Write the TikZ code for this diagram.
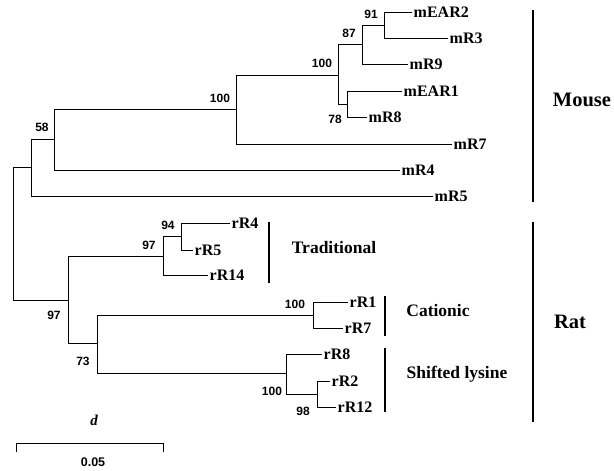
\documentclass[tikz,border=0pt]{standalone}
\usepackage{fontspec}
\setmainfont{Liberation Serif}
\newfontfamily\sansnum{Liberation Sans}
\begin{document}
\begin{tikzpicture}[x=1pt,y=-1pt,
  tree/.style={line width=0.9pt},
  leaf/.style={anchor=west, xshift=1.5pt, yshift=-2pt, inner sep=0pt, text height=0.66em, text depth=0pt, font=\bfseries\fontsize{16}{16}\selectfont},
  boot/.style={inner sep=0pt, text height=0.72em, text depth=0pt, font=\sansnum\bfseries\fontsize{12}{12}\selectfont},
  grp/.style={inner sep=0pt, text height=0.66em, text depth=0pt, font=\bfseries\fontsize{17.5}{18}\selectfont},
  big/.style={inner sep=0pt, text height=0.66em, text depth=0pt, font=\bfseries\fontsize{20.5}{21}\selectfont},
  bar/.style={line width=1.8pt},
  bigbar/.style={line width=2.6pt}]
\useasboundingbox (0,0) rectangle (614,471);
% internal nodes
\coordinate (root) at (13,233.5);
\coordinate (nA) at (31,167.5);
\coordinate (n58) at (54,139);
\coordinate (nM100) at (236,109.5);
\coordinate (nB) at (338,75.5);
\coordinate (n87) at (362,44.5);
\coordinate (n91) at (384,25);
\coordinate (n78) at (347,104);
\coordinate (nR97) at (68,300.5);
\coordinate (nT97) at (163,256);
\coordinate (n94) at (181,236.5);
\coordinate (n73) at (97,343.5);
\coordinate (nC100) at (313,315);
\coordinate (nS100) at (286,373.5);
\coordinate (n98) at (317,394);
% leaves
\path (412,12) coordinate (eEAR2) node[leaf] (mEAR2) {mEAR2};
\path (448,38) coordinate (emR3) node[leaf] (mR3) {mR3};
\path (408,64) coordinate (emR9) node[leaf] (mR9) {mR9};
\path (402,91) coordinate (eEAR1) node[leaf] (mEAR1) {mEAR1};
\path (367,117) coordinate (emR8) node[leaf] (mR8) {mR8};
\path (452,144) coordinate (emR7) node[leaf] (mR7) {mR7};
\path (400,170) coordinate (emR4) node[leaf] (mR4) {mR4};
\path (433,196) coordinate (emR5) node[leaf] (mR5) {mR5};
\path (230,223) coordinate (erR4) node[leaf] (rR4) {rR4};
\path (193,250) coordinate (erR5) node[leaf] (rR5) {rR5};
\path (208,275) coordinate (erR14) node[leaf] (rR14) {rR14};
\path (348,302) coordinate (erR1) node[leaf] (rR1) {rR1};
\path (343,328) coordinate (erR7) node[leaf] (rR7) {rR7};
\path (322,354) coordinate (erR8) node[leaf] (rR8) {rR8};
\path (330,381) coordinate (erR2) node[leaf] (rR2) {rR2};
\path (336,407) coordinate (erR12) node[leaf] (rR12) {rR12};
% branches
\draw[tree] (root) |- (nA);
\draw[tree] (root) |- (nR97);
\draw[tree] (nA) |- (n58);
\draw[tree] (nA) |- (emR5);
\draw[tree] (n58) |- (nM100);
\draw[tree] (n58) |- (emR4);
\draw[tree] (nM100) |- (nB);
\draw[tree] (nM100) |- (emR7);
\draw[tree] (nB) |- (n87);
\draw[tree] (nB) |- (n78);
\draw[tree] (n87) |- (n91);
\draw[tree] (n87) |- (emR9);
\draw[tree] (n91) |- (eEAR2);
\draw[tree] (n91) |- (emR3);
\draw[tree] (n78) |- (eEAR1);
\draw[tree] (n78) |- (emR8);
\draw[tree] (nR97) |- (nT97);
\draw[tree] (nR97) |- (n73);
\draw[tree] (nT97) |- (n94);
\draw[tree] (nT97) |- (erR14);
\draw[tree] (n94) |- (erR4);
\draw[tree] (n94) |- (erR5);
\draw[tree] (n73) |- (nC100);
\draw[tree] (n73) |- (nS100);
\draw[tree] (nC100) |- (erR1);
\draw[tree] (nC100) |- (erR7);
\draw[tree] (nS100) |- (erR8);
\draw[tree] (nS100) |- (n98);
\draw[tree] (n98) |- (erR2);
\draw[tree] (n98) |- (erR12);
% bootstrap values
\node[boot] (b58) at (42,128) {58};
\node[boot] (bM100) at (220,99) {100};
\node[boot] (bB100) at (322,64) {100};
\node[boot] (b87) at (349,34) {87};
\node[boot] (b91) at (371,15) {91};
\node[boot] (b78) at (335,120) {78};
\node[boot] (b94) at (168,226) {94};
\node[boot] (bT97) at (149,246) {97};
\node[boot] (bR97) at (54,316) {97};
\node[boot] (b73) at (83,362) {73};
\node[boot] (bC100) at (295,305) {100};
\node[boot] (bS100) at (272,392) {100};
\node[boot] (b98) at (303,412) {98};
% group bars and labels
\draw[bigbar] (533,10) coordinate (mt) -- (533,202) coordinate (mb);
\node[big] (mouse) at (582,103) {Mouse};
\draw[bigbar] (533,222) coordinate (rt) -- (533,422) coordinate (rb);
\node[big] (rat) at (570,325) {Rat};
\draw[bar] (269,222) coordinate (tt) -- (269,283) coordinate (tb);
\node[grp] (trad) at (334,250) {Traditional};
\draw[bar] (385,296) coordinate (ct) -- (385,336) coordinate (cb);
\node[grp] (cat) at (438,313) {Cationic};
\draw[bar] (385,348) coordinate (st) -- (385,412) coordinate (sb);
\node[grp] (shl) at (457,375) {Shifted lysine};
% scale bar
\coordinate (sbL) at (16,443);
\coordinate (sbR) at (163,443);
\draw[tree] ([yshift=-9pt]sbL) -- (sbL) -- (sbR) -- ([yshift=-9pt]sbR);
\node[inner sep=0pt, font=\bfseries\itshape\fontsize{15}{15}\selectfont] (dlab) at (94,420) {d};
\node[boot, font=\sansnum\bfseries\fontsize{12.5}{13}\selectfont] (scale) at (93,463) {0.05};
\end{tikzpicture}
\end{document}
